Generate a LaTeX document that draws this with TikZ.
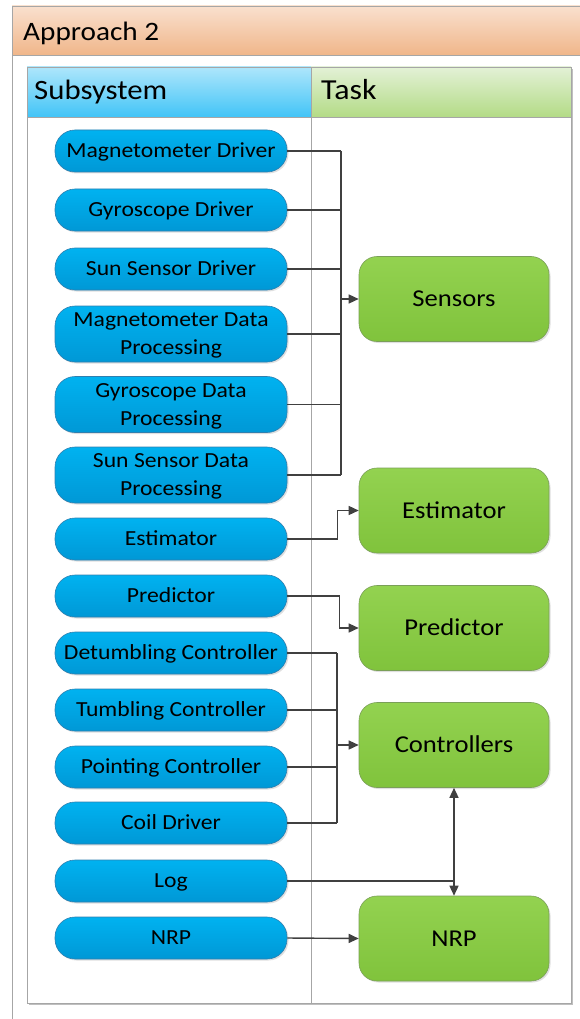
\documentclass[tikz,border=0pt]{standalone}
\usepackage{fontspec}
\setmainfont{Carlito}[FakeStretch=1.1]
\usetikzlibrary{arrows.meta,shadows}
\definecolor{titletop}{HTML}{F9E0CE}
\definecolor{titlebot}{HTML}{F0B68A}
\definecolor{subtop}{HTML}{AEE6FB}
\definecolor{subbot}{HTML}{42C4F7}
\definecolor{tasktop}{HTML}{E3F1D6}
\definecolor{taskbot}{HTML}{B3DB86}
\definecolor{framegray}{HTML}{A6A6A6}
\definecolor{pilltop}{HTML}{00B2F0}
\definecolor{pillbot}{HTML}{0098D6}
\definecolor{pillborder}{HTML}{2F7FAF}
\definecolor{greentop}{HTML}{93D250}
\definecolor{greenbot}{HTML}{80C33C}
\definecolor{greenborder}{HTML}{7A9F58}
\definecolor{linegray}{HTML}{404040}
\tikzset{
  pill/.style={rounded corners=20pt, minimum width=232pt, minimum height=42pt,
    top color=pilltop, bottom color=pillbot, draw=pillborder, line width=0.6pt,
    align=center, inner sep=0pt, text height=17.85pt, text depth=4.3pt,
    font=\fontsize{21.5}{28}\selectfont,
    drop shadow={shadow xshift=1.5pt, shadow yshift=-1.5pt, opacity=0.25}},
  pilltwo/.style={pill, minimum height=56pt, text height=45.85pt},
  taskbox/.style={rounded corners=18pt, minimum width=190pt, minimum height=85pt,
    top color=greentop, bottom color=greenbot, draw=greenborder, line width=0.6pt,
    inner sep=0pt, text height=20.09pt, text depth=4.84pt,
    font=\fontsize{24.2}{30}\selectfont,
    drop shadow={shadow xshift=1.5pt, shadow yshift=-1.5pt, opacity=0.25}},
  conn/.style={draw=linegray, line width=1.4pt},
  arr/.style={conn, -{Triangle[length=10pt,width=9pt]}},
  headtxt/.style={anchor=west, inner sep=0pt, text height=23.24pt, text depth=5.6pt,
    font=\fontsize{28}{32}\selectfont}
}
\begin{document}
\begin{tikzpicture}[x=1pt,y=-1pt]
\useasboundingbox (0,0) rectangle (580,1019);
% title band
\shade[top color=titletop, bottom color=titlebot] (12,6) rectangle (580,55);
\draw[framegray, line width=0.8pt] (580,6) -- (12,6) -- (12,1019);
\draw[framegray, line width=0.8pt] (12,55) -- (580,55);
\node[headtxt, font=\fontsize{26.6}{30}\selectfont, text height=22.08pt, text depth=5.32pt] (title) at (23,32) {Approach 2};
% table
\shade[top color=subtop, bottom color=subbot] (27,67) rectangle (311,117);
\shade[top color=tasktop, bottom color=taskbot] (311,67) rectangle (571,117);
\fill[black!25] (29,1003) rectangle (573,1005);
\fill[black!25] (571,69) rectangle (573,1005);
\draw[framegray, line width=0.8pt] (27,67) rectangle (571,1003);
\draw[framegray, line width=0.8pt] (311,67) -- (311,1003);
\draw[framegray, line width=0.8pt] (27,117) -- (571,117);
\node[headtxt] (hsub) at (34,91) {Subsystem};
\node[headtxt, font=\fontsize{29}{32}\selectfont] (htask) at (321,90.5) {Task};
% subsystems
\node[pill] (md) at (171,151) {Magnetometer Driver};
\node[pill] (gd) at (171,210) {Gyroscope Driver};
\node[pill] (sd) at (171,269) {Sun Sensor Driver};
\node[pilltwo] (mdp) at (171,334) {Magnetometer Data\\Processing};
\node[pilltwo] (gdp) at (171,404.5) {Gyroscope Data\\Processing};
\node[pilltwo] (sdp) at (171,475) {Sun Sensor Data\\Processing};
\node[pill] (est) at (171,539) {Estimator};
\node[pill] (pred) at (171,596) {Predictor};
\node[pill] (dc) at (171,653) {Detumbling Controller};
\node[pill] (tc) at (171,710) {Tumbling Controller};
\node[pill] (pc) at (171,767) {Pointing Controller};
\node[pill] (cd) at (171,823) {Coil Driver};
\node[pill] (log) at (171,881) {Log};
\node[pill] (nrp) at (171,938) {NRP};
% tasks
\node[taskbox] (Sens) at (454,299) {Sensors};
\node[taskbox] (Est) at (454,510.5) {Estimator};
\node[taskbox] (Pred) at (454,628) {Predictor};
\node[taskbox] (Ctrl) at (454,745) {Controllers};
\node[taskbox] (NRP) at (454,938.5) {NRP};
% sensors bus
\coordinate (sbus) at (341,0);
\foreach \n in {md,gd,sd,mdp,gdp,sdp}
  \draw[conn] (\n.east) -- (\n.east -| sbus);
\draw[conn] (md.east -| sbus) -- (sdp.east -| sbus);
\draw[arr] (Sens.west -| sbus) -- (Sens.west);
% estimator
\draw[arr] (est.east) -- ([xshift=50pt]est.east) |- (Est.west);
% predictor
\draw[arr] (pred.east) -- ([xshift=52pt]pred.east) |- (Pred.west);
% controllers bus
\coordinate (cbus) at (337,0);
\foreach \n in {dc,tc,pc,cd}
  \draw[conn] (\n.east) -- (\n.east -| cbus);
\draw[conn] (dc.east -| cbus) -- (cd.east -| cbus);
\draw[arr] (Ctrl.west -| cbus) -- (Ctrl.west);
% log
\coordinate (lj) at (log.east -| Ctrl.south);
\draw[conn] (log.east) -- (lj);
\draw[arr] (lj) -- (Ctrl.south);
\draw[arr] (lj) -- (NRP.north);
% nrp
\draw[arr] (nrp.east) -- (NRP.west);
\end{tikzpicture}
\end{document}
